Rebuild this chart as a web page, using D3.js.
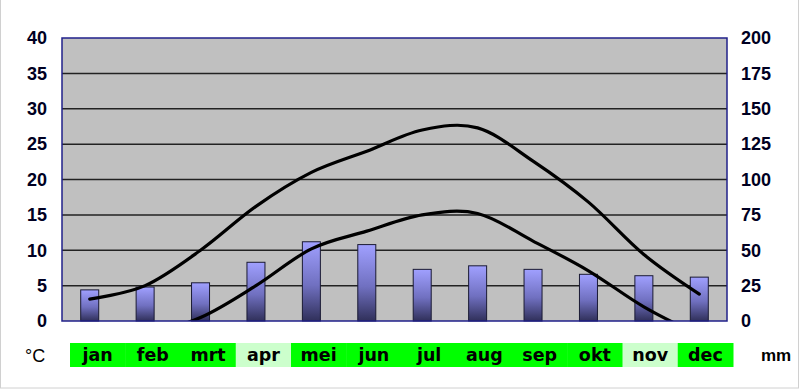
<!DOCTYPE html>
<html lang="nl">
<head>
<meta charset="UTF-8">
<title>Klimaatgrafiek</title>
<style>
    body { margin: 0; background: #fff; }
    svg { display: block; font-family: 'Liberation Sans', Arial, sans-serif; }
    .tick text { font-size: 18px; font-weight: bold; fill: #000022; }
    .month { font-family: 'DejaVu Sans', Verdana, sans-serif; font-size: 17.5px; font-weight: bold; fill: #000; }
</style>
</head>
<body>
<div id="chart"></div>
<script src="https://d3js.org/d3.v7.min.js"></script>
<script>
    const months = ["jan", "feb", "mrt", "apr", "mei", "jun", "jul", "aug", "sep", "okt", "nov", "dec"];
    const tempMax = [3.1, 5, 10, 16.2, 21, 24, 27, 27.3, 22.6, 16.8, 9.4, 3.8];
    const tempMin = [-2.5, -1.8, 0.5, 5, 10.2, 12.7, 15, 15.2, 11.3, 7.1, 2, -2];
    const rain = [22, 24, 27, 41.5, 56, 54, 36.5, 39, 36.5, 33, 32, 31];
    const lightMonths = ["apr", "nov"];
    const tempTicks = [0, 5, 10, 15, 20, 25, 30, 35, 40];
    const rainTicks = [0, 25, 50, 75, 100, 125, 150, 175, 200];

    const width = 800, height = 391;
    const plot = { left: 62, right: 727, top: 38, bottom: 321 };

    const svg = d3.select("#chart").append("svg")
        .attr("width", width)
        .attr("height", height);

    // faint frame of the picture
    svg.append("rect")
        .attr("x", 0.5).attr("y", -1)
        .attr("width", width - 2).attr("height", height - 2)
        .attr("fill", "none").attr("stroke", "#d0d0d0");

    const x = d3.scaleBand().domain(months).range([plot.left, plot.right]);
    const yT = d3.scaleLinear().domain([0, 40]).range([plot.bottom, plot.top]);
    const yR = d3.scaleLinear().domain([0, 200]).range([plot.bottom, plot.top]);

    svg.append("rect")
        .attr("x", plot.left).attr("y", plot.top)
        .attr("width", plot.right - plot.left).attr("height", plot.bottom - plot.top)
        .attr("fill", "#c0c0c0");

    // gridlines
    svg.append("g").selectAll("line")
        .data(tempTicks.filter(d => d > 0 && d < 40))
        .enter().append("line")
        .attr("x1", plot.left).attr("x2", plot.right)
        .attr("y1", d => yT(d)).attr("y2", d => yT(d))
        .attr("stroke", "#222").attr("stroke-width", 1.5);

    // bars
    const defs = svg.append("defs");
    const grad = defs.append("linearGradient")
        .attr("id", "barGrad").attr("x1", 0).attr("y1", 0).attr("x2", 0).attr("y2", 1);
    grad.append("stop").attr("offset", "0%").attr("stop-color", "#a0a0ff");
    grad.append("stop").attr("offset", "55%").attr("stop-color", "#7070c0");
    grad.append("stop").attr("offset", "100%").attr("stop-color", "#30305a");

    const barW = 18;
    svg.append("g").selectAll("rect")
        .data(rain)
        .enter().append("rect")
        .attr("x", (d, i) => x(months[i]) + x.bandwidth() / 2 - barW / 2)
        .attr("y", d => yR(d))
        .attr("width", barW)
        .attr("height", d => plot.bottom - yR(d))
        .attr("fill", "url(#barGrad)")
        .attr("stroke", "#1a1a33").attr("stroke-width", 1);

    // temperature lines, clipped to the plot area
    defs.append("clipPath").attr("id", "plotClip")
        .append("rect")
        .attr("x", plot.left).attr("y", plot.top)
        .attr("width", plot.right - plot.left).attr("height", plot.bottom - plot.top);

    const line = d3.line()
        .x((d, i) => x(months[i]) + x.bandwidth() / 2)
        .y(d => yT(d))
        .curve(d3.curveCardinal.tension(0));

    const lines = svg.append("g").attr("clip-path", "url(#plotClip)");
    [tempMax, tempMin].forEach(series => {
        lines.append("path")
            .attr("d", line(series))
            .attr("fill", "none")
            .attr("stroke", "#000")
            .attr("stroke-width", 3.2)
            .attr("stroke-linecap", "round");
    });

    // plot border
    svg.append("rect")
        .attr("x", plot.left).attr("y", plot.top)
        .attr("width", plot.right - plot.left).attr("height", plot.bottom - plot.top)
        .attr("fill", "none").attr("stroke", "#20208a").attr("stroke-width", 1.5);

    // axes
    const leftAxis = d3.axisLeft(yT).tickValues(tempTicks).tickSize(0).tickPadding(15);
    svg.append("g")
        .attr("transform", `translate(${plot.left},0)`)
        .call(leftAxis)
        .call(g => g.select(".domain").remove());

    const rightAxis = d3.axisRight(yR).tickValues(rainTicks).tickSize(0).tickPadding(14);
    svg.append("g")
        .attr("transform", `translate(${plot.right},0)`)
        .call(rightAxis)
        .call(g => g.select(".domain").remove());

    svg.selectAll(".tick text").attr("font-family", null).attr("font-size", null);

    // month band
    const xm = d3.scaleBand().domain(months).range([70, 733]);
    const band = svg.append("g");
    band.selectAll("rect")
        .data(months)
        .enter().append("rect")
        .attr("x", d => xm(d))
        .attr("y", 343)
        .attr("width", xm.bandwidth() + 0.5)
        .attr("height", 24)
        .attr("fill", d => lightMonths.includes(d) ? "#ccffcc" : "#00ff00");
    band.selectAll("text")
        .data(months)
        .enter().append("text")
        .attr("class", "month")
        .attr("x", d => xm(d) + xm.bandwidth() / 2)
        .attr("y", 361)
        .attr("text-anchor", "middle")
        .text(d => d);

    svg.append("text")
        .attr("x", 25).attr("y", 362)
        .attr("font-size", 18).attr("fill", "#000")
        .text("°C");
    svg.append("text")
        .attr("x", 761).attr("y", 361)
        .attr("font-size", 17).attr("font-weight", "bold").attr("fill", "#000")
        .text("mm");
</script>
</body>
</html>
